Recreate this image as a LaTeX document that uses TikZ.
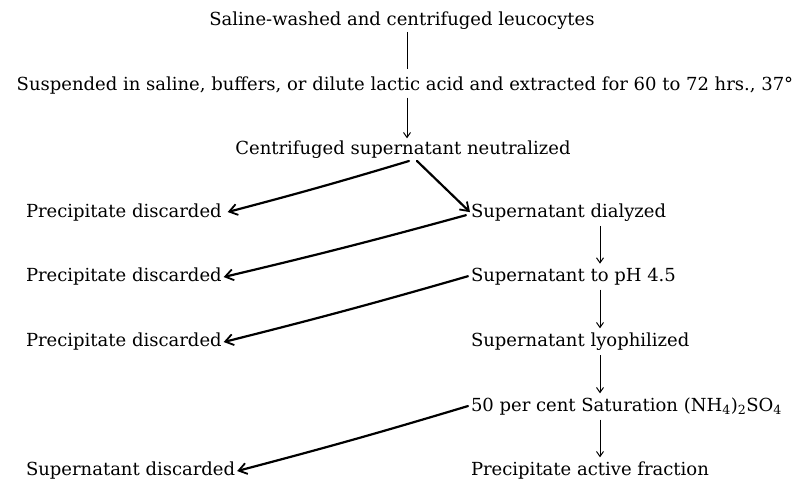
\documentclass[tikz,border=0pt]{standalone}
\usepackage{fontspec}
\setmainfont{DejaVu Serif}
\usetikzlibrary{arrows.meta}
\begin{document}
\begin{tikzpicture}[x=1pt,y=-1pt,
  txt/.style={inner sep=0pt,outer sep=0pt,font=\fontsize{18}{21}\selectfont},
  thin line/.style={line width=1pt},
  smallarrow/.style={line width=1pt,-{Straight Barb[length=5pt,width=7pt,line width=1pt]}},
  bigarrow/.style={line width=2.2pt,line cap=round,-{Straight Barb[length=8pt,width=11pt,line width=1.8pt]}}]
\useasboundingbox (0,0) rectangle (808,481);
\node[txt,anchor=base] (t) at (402,26) {Saline-washed and centrifuged leucocytes};
\node[txt,anchor=base] (s) at (405,91) {Suspended in saline, buffers, or dilute lactic acid and extracted for 60 to 72 hrs., 37°};
\node[txt,anchor=base] (c) at (403,155) {Centrifuged supernatant neutralized};
\node[txt,anchor=base west] (p1) at (26,217) {Precipitate discarded};
\node[txt,anchor=base west] (r1) at (471,217) {Supernatant dialyzed};
\node[txt,anchor=base west] (p2) at (26,281) {Precipitate discarded};
\node[txt,anchor=base west] (r2) at (471,281) {Supernatant to pH 4.5};
\node[txt,anchor=base west] (p3) at (26,346) {Precipitate discarded};
\node[txt,anchor=base west] (r3) at (471,346) {Supernatant lyophilized};
\node[txt,anchor=base west] (r4) at (471,411) {50 per cent Saturation (NH\textsubscript{4})\textsubscript{2}SO\textsubscript{4}};
\node[txt,anchor=base west] (p5) at (26,475) {Supernatant discarded};
\node[txt,anchor=base west] (r5) at (471,475) {Precipitate active fraction};
\coordinate (ax) at (600,0);
\coordinate (tx) at (407,0);
% top connectors
\draw[thin line] (t.south -| tx) ++(0,2) -- ([yshift=8pt]s.north -| tx);
\draw[smallarrow] (s.south -| tx) ++(0,3) -- ([yshift=3pt]c.north -| tx);
% right column arrows
\draw[smallarrow] (r1.south -| ax) ++(0,5) -- ([yshift=4pt]r2.north -| ax);
\draw[smallarrow] (r2.south -| ax) ++(0,5) -- ([yshift=4pt]r3.north -| ax);
\draw[smallarrow] (r3.south -| ax) ++(0,5) -- ([yshift=4pt]r4.north -| ax);
\draw[smallarrow] (r4.south -| ax) ++(0,5) -- ([yshift=4pt]r5.north -| ax);
% diagonal arrows
\draw[bigarrow] ([xshift=6pt,yshift=-2pt]c.south) to[bend left=1] ([xshift=6pt]p1.east);
\draw[bigarrow] ([xshift=14pt,yshift=-2pt]c.south) -- ([xshift=-1pt]r1.west);
\draw[bigarrow] ([xshift=-5pt,yshift=-3pt]r1.west) to[bend left=1] ([xshift=2pt,yshift=-1pt]p2.east);
\draw[bigarrow] ([xshift=-3pt]r2.west) to[bend left=1] ([xshift=2pt,yshift=-1pt]p3.east);
\draw[bigarrow] ([xshift=-3pt]r4.west) to[bend left=1] ([xshift=2pt,yshift=-1pt]p5.east);
\end{tikzpicture}
\end{document}
